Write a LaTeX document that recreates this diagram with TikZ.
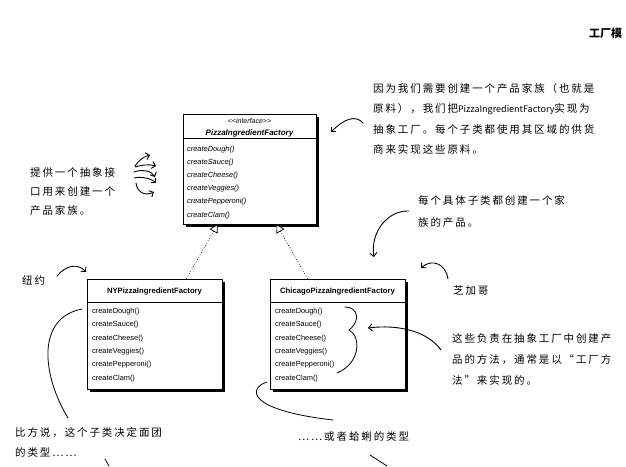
\documentclass[tikz,border=0pt]{standalone}
\usepackage{fontspec}
\setmainfont{Liberation Sans}
\newfontfamily\cjk[LetterSpace=18]{Noto Sans CJK SC}
\newfontfamily\cjkplain{Noto Sans CJK SC}
\usetikzlibrary{arrows.meta,shadows,calc}

\tikzset{
  umlbox/.style={draw, fill=white, line width=0.8pt, inner sep=0pt,
    drop shadow={shadow xshift=3pt, shadow yshift=-3pt, fill=black, opacity=1}},
  boxtitle/.style={font=\bfseries\fontsize{7.7}{9}\selectfont, anchor=base, inner sep=0pt},
  ops/.style={font=\fontsize{7.4}{13.3}\selectfont, align=left, anchor=base west, inner sep=0pt},
  handnote/.style={font=\cjk\fontsize{10.5}{20.5}\selectfont, align=left, anchor=base west, inner sep=0pt},
  hand/.style={line width=0.9pt, line cap=round, -{Straight Barb[length=3.5pt,width=7pt]}},
  stroke/.style={line width=0.8pt, line cap=round},
  implements/.style={line width=0.7pt, dotted, -{Triangle[open,fill=white,length=8pt,width=9pt]}}
}

\begin{document}
\begin{tikzpicture}[x=1pt,y=-1pt]
  \fill[white] (0,0) rectangle (626,466);
  \useasboundingbox (0,0) rectangle (626,466);

  % cabecera de la pagina
  \node[font=\cjkplain\bfseries\fontsize{11}{13}\selectfont, anchor=base west, inner sep=0pt] (chapter) at (589,37) {工厂模};

  % la interfaz abstracta (base = ultima linea)
  \node[umlbox, minimum width=133pt, minimum height=110pt] (iface) at (249.5,169) {};
  \draw[line width=0.8pt] (iface.west |- 0,138) -- (iface.east |- 0,138);
  \node[font=\itshape\fontsize{7}{8}\selectfont, anchor=base, inner sep=0pt] (stereo) at (249.5,123.5) {{<}{<}interface{>}{>}};
  \node[boxtitle, font=\bfseries\itshape\fontsize{8}{9}\selectfont] (ifacetitle) at (249.5,135) {PizzaIngredientFactory};
  \node[ops, font=\itshape\fontsize{7.4}{13.1}\selectfont] (ifaceops) at (187,217)
    {createDough()\\createSauce()\\createCheese()\\createVeggies()\\createPepperoni()\\createClam()};

  % las dos fabricas concretas
  \node[umlbox, minimum width=135pt, minimum height=110pt] (ny) at (154.5,334) {};
  \draw[line width=0.8pt] (ny.west |- 0,302) -- (ny.east |- 0,302);
  \node[boxtitle] (nytitle) at (154.5,293) {NYPizzaIngredientFactory};
  \node[ops] (nyops) at (92,380)
    {createDough()\\createSauce()\\createCheese()\\createVeggies()\\createPepperoni()\\createClam()};

  \node[umlbox, minimum width=135pt, minimum height=110pt] (chi) at (337.5,334) {};
  \draw[line width=0.8pt] (chi.west |- 0,302) -- (chi.east |- 0,302);
  \node[boxtitle] (chititle) at (337.5,293) {ChicagoPizzaIngredientFactory};
  \node[ops] (chiops) at (275,380)
    {createDough()\\createSauce()\\createCheese()\\createVeggies()\\createPepperoni()\\createClam()};

  % implementaciones
  \draw[implements] ([xshift=32pt]ny.north) -- ([xshift=-32pt]iface.south);
  \draw[implements] ([xshift=-30pt]chi.north) -- ([xshift=27pt]iface.south);

  % notas a mano
  \node[handnote] (familia) at (373,153.5)
    {因为我们需要创建一个产品家族（也就是\\原料），我们把{\cjkplain\fontsize{9}{20.5}\selectfont PizzaIngredientFactory}实现为\\抽象工厂。每个子类都使用其区域的供货\\商来实现这些原料。};
  \coordinate (familiaend) at (363,123);
  \coordinate (familiatip) at (331,132);
  \draw[hand] (familiaend) .. controls (356,115) and (345,118) .. (familiatip);

  \node[handnote, font=\cjk\fontsize{10.5}{19}\selectfont] (abstracto) at (30,214)
    {提供一个抽象接\\口用来创建一个\\产品家族。};
  \draw[hand] (135,166) .. controls (139,160) and (143,157) .. (150,155);
  \draw[hand] (135,167) .. controls (142,165) and (148,164) .. (156,166);
  \draw[hand] (134,172) .. controls (142,169) and (152,171) .. (155,177);
  \draw[hand] (134,178) .. controls (142,176) and (152,179) .. (156,183);
  \draw[hand] (136,183) .. controls (137,193) and (146,196) .. (154,192);

  \node[handnote] (nyc) at (22,284) {纽约};
  \coordinate (nycend) at (57,276);
  \coordinate (nyctip) at (86,272);
  \draw[hand] (nycend) .. controls (66,265) and (78,263) .. (nyctip);

  \node[handnote] (chicago) at (453,294) {芝加哥};
  \coordinate (chicagoend) at (448,279);
  \coordinate (chicagotip) at (421,268);
  \draw[hand] (chicagoend) .. controls (446,264) and (432,258) .. (chicagotip);

  \node[handnote, font=\cjk\fontsize{10.5}{22}\selectfont] (concreta) at (418,226)
    {每个具体子类都创建一个家\\族的产品。};
  \coordinate (concretaend) at (409,211);
  \coordinate (concretatip) at (374,257);
  \draw[hand] (concretaend) .. controls (388,210) and (370,232) .. (concretatip);

  \node[handnote, font=\cjk\fontsize{10.5}{21}\selectfont] (metodo) at (452,384)
    {这些负责在抽象工厂中创建产\\品的方法，通常是以“工厂方\\法”来实现的。};
  \coordinate (metodoend) at (441,350);
  \coordinate (metodotip) at (368,328);
  \draw[hand] (metodoend) .. controls (428,332) and (400,324) .. (metodotip);
  \draw[stroke] (345,307) .. controls (358,307) and (361,321) .. (349,330)
    .. controls (361,336) and (361,363) .. (337,373);

  \node[handnote, font=\cjk\fontsize{10.5}{20}\selectfont] (masa) at (15,456)
    {比方说，这个子类决定面团\\的类型……};
  \draw[stroke] (68,418) .. controls (42,375) and (36,318) .. (82,309);
  \draw[stroke] (105,459) -- (109,466);

  \node[handnote] (almeja) at (298,440) {……或者蛤蜊的类型};
  \draw[stroke] (267,382) .. controls (248,388) and (246,410) .. (333,420);
  \draw[stroke] (370,455) -- (387,466);
\end{tikzpicture}
\end{document}
